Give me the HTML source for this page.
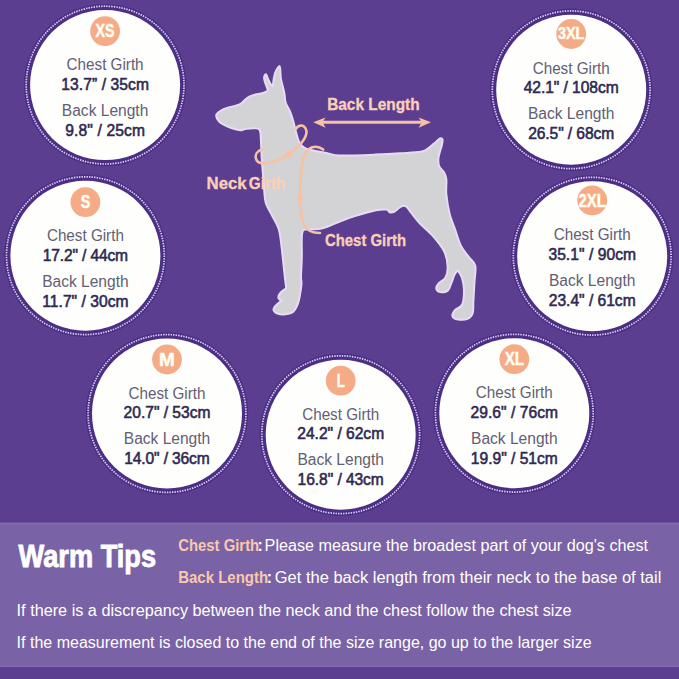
<!DOCTYPE html>
<html><head><meta charset="utf-8"><style>
html,body{margin:0;padding:0;background:#5b3e8f;}
svg{display:block;}
</style></head><body>
<svg width="679" height="679" viewBox="0 0 679 679">
<rect width="679" height="679" fill="#5b3e8f"/>
<circle cx="105.1" cy="85.1" r="81.2" fill="#4a2f82"/>
<circle cx="105.1" cy="85.1" r="78.9" fill="none" stroke="#dccbff" stroke-width="1.7" stroke-dasharray="1.45 1.1"/>
<circle cx="105.1" cy="85.1" r="75" fill="#fefefc"/>
<circle cx="105.1" cy="31.1" r="14.9" fill="#f5ab86"/>
<text x="105.1" y="37.3" font-family="Liberation Sans, sans-serif" font-size="18.2" font-weight="700" fill="#fffdf2" stroke="#fffdf2" stroke-width="0.5" text-anchor="middle" textLength="19" lengthAdjust="spacingAndGlyphs">XS</text>
<text x="105.1" y="70.1" font-family="Liberation Sans, sans-serif" font-size="15.6" fill="#625e75" text-anchor="middle" textLength="77" lengthAdjust="spacingAndGlyphs">Chest Girth</text>
<text transform="translate(105.1,89.6) scale(1.0,1)" font-family="Liberation Sans, sans-serif" font-size="15.6" fill="#2e2852" stroke="#2e2852" stroke-width="0.55" text-anchor="middle" textLength="87.6" lengthAdjust="spacing">13.7” / 35cm</text>
<text x="105.1" y="115.8" font-family="Liberation Sans, sans-serif" font-size="15.6" fill="#625e75" text-anchor="middle" textLength="86.5" lengthAdjust="spacingAndGlyphs">Back Length</text>
<text transform="translate(105.1,135.8) scale(1.0,1)" font-family="Liberation Sans, sans-serif" font-size="15.6" fill="#2e2852" stroke="#2e2852" stroke-width="0.55" text-anchor="middle" textLength="79.6" lengthAdjust="spacing">9.8&quot; / 25cm</text>
<circle cx="85.4" cy="255.7" r="81.2" fill="#4a2f82"/>
<circle cx="85.4" cy="255.7" r="78.9" fill="none" stroke="#dccbff" stroke-width="1.7" stroke-dasharray="1.45 1.1"/>
<circle cx="85.4" cy="255.7" r="75" fill="#fefefc"/>
<circle cx="85.4" cy="202.1" r="14.9" fill="#f5ab86"/>
<text x="85.4" y="208.3" font-family="Liberation Sans, sans-serif" font-size="18.2" font-weight="700" fill="#fffdf2" stroke="#fffdf2" stroke-width="0.5" text-anchor="middle" textLength="9.5" lengthAdjust="spacingAndGlyphs">S</text>
<text x="85.4" y="241.0" font-family="Liberation Sans, sans-serif" font-size="15.6" fill="#625e75" text-anchor="middle" textLength="77" lengthAdjust="spacingAndGlyphs">Chest Girth</text>
<text transform="translate(85.4,260.5) scale(1.0,1)" font-family="Liberation Sans, sans-serif" font-size="15.6" fill="#2e2852" stroke="#2e2852" stroke-width="0.55" text-anchor="middle" textLength="85.4" lengthAdjust="spacing">17.2&quot; / 44cm</text>
<text x="85.4" y="286.7" font-family="Liberation Sans, sans-serif" font-size="15.6" fill="#625e75" text-anchor="middle" textLength="86.5" lengthAdjust="spacingAndGlyphs">Back Length</text>
<text transform="translate(85.4,306.7) scale(1.0,1)" font-family="Liberation Sans, sans-serif" font-size="15.6" fill="#2e2852" stroke="#2e2852" stroke-width="0.55" text-anchor="middle" textLength="86.2" lengthAdjust="spacing">11.7&quot; / 30cm</text>
<circle cx="167.0" cy="413.5" r="81.2" fill="#4a2f82"/>
<circle cx="167.0" cy="413.5" r="78.9" fill="none" stroke="#dccbff" stroke-width="1.7" stroke-dasharray="1.45 1.1"/>
<circle cx="167.0" cy="413.5" r="75" fill="#fefefc"/>
<circle cx="167.0" cy="359.5" r="14.9" fill="#f5ab86"/>
<text x="167.0" y="365.8" font-family="Liberation Sans, sans-serif" font-size="18.2" font-weight="700" fill="#fffdf2" stroke="#fffdf2" stroke-width="0.5" text-anchor="middle" textLength="15.8" lengthAdjust="spacingAndGlyphs">M</text>
<text x="167.0" y="398.5" font-family="Liberation Sans, sans-serif" font-size="15.6" fill="#625e75" text-anchor="middle" textLength="77" lengthAdjust="spacingAndGlyphs">Chest Girth</text>
<text transform="translate(167.0,418.0) scale(1.0,1)" font-family="Liberation Sans, sans-serif" font-size="15.6" fill="#2e2852" stroke="#2e2852" stroke-width="0.55" text-anchor="middle" textLength="86.9" lengthAdjust="spacing">20.7&quot; / 53cm</text>
<text x="167.0" y="444.2" font-family="Liberation Sans, sans-serif" font-size="15.6" fill="#625e75" text-anchor="middle" textLength="86.5" lengthAdjust="spacingAndGlyphs">Back Length</text>
<text transform="translate(167.0,464.2) scale(1.0,1)" font-family="Liberation Sans, sans-serif" font-size="15.6" fill="#2e2852" stroke="#2e2852" stroke-width="0.55" text-anchor="middle" textLength="85.5" lengthAdjust="spacing">14.0&quot; / 36cm</text>
<circle cx="340.7" cy="434.7" r="81.2" fill="#4a2f82"/>
<circle cx="340.7" cy="434.7" r="78.9" fill="none" stroke="#dccbff" stroke-width="1.7" stroke-dasharray="1.45 1.1"/>
<circle cx="340.7" cy="434.7" r="75" fill="#fefefc"/>
<circle cx="340.7" cy="380.7" r="14.9" fill="#f5ab86"/>
<text x="340.7" y="386.8" font-family="Liberation Sans, sans-serif" font-size="18.2" font-weight="700" fill="#fffdf2" stroke="#fffdf2" stroke-width="0.5" text-anchor="middle" textLength="8" lengthAdjust="spacingAndGlyphs">L</text>
<text x="340.7" y="419.7" font-family="Liberation Sans, sans-serif" font-size="15.6" fill="#625e75" text-anchor="middle" textLength="77" lengthAdjust="spacingAndGlyphs">Chest Girth</text>
<text transform="translate(340.7,439.2) scale(1.0,1)" font-family="Liberation Sans, sans-serif" font-size="15.6" fill="#2e2852" stroke="#2e2852" stroke-width="0.55" text-anchor="middle" textLength="86.9" lengthAdjust="spacing">24.2&quot; / 62cm</text>
<text x="340.7" y="465.4" font-family="Liberation Sans, sans-serif" font-size="15.6" fill="#625e75" text-anchor="middle" textLength="86.5" lengthAdjust="spacingAndGlyphs">Back Length</text>
<text transform="translate(340.7,485.4) scale(1.0,1)" font-family="Liberation Sans, sans-serif" font-size="15.6" fill="#2e2852" stroke="#2e2852" stroke-width="0.55" text-anchor="middle" textLength="86.2" lengthAdjust="spacing">16.8&quot; / 43cm</text>
<circle cx="514.3" cy="413.2" r="81.2" fill="#4a2f82"/>
<circle cx="514.3" cy="413.2" r="78.9" fill="none" stroke="#dccbff" stroke-width="1.7" stroke-dasharray="1.45 1.1"/>
<circle cx="514.3" cy="413.2" r="75" fill="#fefefc"/>
<circle cx="514.3" cy="359.2" r="14.9" fill="#f5ab86"/>
<text x="514.3" y="365.2" font-family="Liberation Sans, sans-serif" font-size="18.2" font-weight="700" fill="#fffdf2" stroke="#fffdf2" stroke-width="0.5" text-anchor="middle" textLength="19.3" lengthAdjust="spacingAndGlyphs">XL</text>
<text x="514.3" y="398.2" font-family="Liberation Sans, sans-serif" font-size="15.6" fill="#625e75" text-anchor="middle" textLength="77" lengthAdjust="spacingAndGlyphs">Chest Girth</text>
<text transform="translate(514.3,417.7) scale(1.0,1)" font-family="Liberation Sans, sans-serif" font-size="15.6" fill="#2e2852" stroke="#2e2852" stroke-width="0.55" text-anchor="middle" textLength="87.6" lengthAdjust="spacing">29.6&quot; / 76cm</text>
<text x="514.3" y="443.9" font-family="Liberation Sans, sans-serif" font-size="15.6" fill="#625e75" text-anchor="middle" textLength="86.5" lengthAdjust="spacingAndGlyphs">Back Length</text>
<text transform="translate(514.3,463.9) scale(1.0,1)" font-family="Liberation Sans, sans-serif" font-size="15.6" fill="#2e2852" stroke="#2e2852" stroke-width="0.55" text-anchor="middle" textLength="86.9" lengthAdjust="spacing">19.9&quot; / 51cm</text>
<circle cx="592.2" cy="256.2" r="81.2" fill="#4a2f82"/>
<circle cx="592.2" cy="256.2" r="78.9" fill="none" stroke="#dccbff" stroke-width="1.7" stroke-dasharray="1.45 1.1"/>
<circle cx="592.2" cy="256.2" r="75" fill="#fefefc"/>
<circle cx="592.2" cy="200.4" r="14.9" fill="#f5ab86"/>
<text x="592.2" y="206.6" font-family="Liberation Sans, sans-serif" font-size="18.2" font-weight="700" fill="#fffdf2" stroke="#fffdf2" stroke-width="0.5" text-anchor="middle" textLength="27.5" lengthAdjust="spacingAndGlyphs">2XL</text>
<text x="592.2" y="240.0" font-family="Liberation Sans, sans-serif" font-size="15.6" fill="#625e75" text-anchor="middle" textLength="77" lengthAdjust="spacingAndGlyphs">Chest Girth</text>
<text transform="translate(592.2,259.5) scale(1.0,1)" font-family="Liberation Sans, sans-serif" font-size="15.6" fill="#2e2852" stroke="#2e2852" stroke-width="0.55" text-anchor="middle" textLength="87.6" lengthAdjust="spacing">35.1&quot; / 90cm</text>
<text x="592.2" y="285.7" font-family="Liberation Sans, sans-serif" font-size="15.6" fill="#625e75" text-anchor="middle" textLength="86.5" lengthAdjust="spacingAndGlyphs">Back Length</text>
<text transform="translate(592.2,305.7) scale(1.0,1)" font-family="Liberation Sans, sans-serif" font-size="15.6" fill="#2e2852" stroke="#2e2852" stroke-width="0.55" text-anchor="middle" textLength="86.9" lengthAdjust="spacing">23.4&quot; / 61cm</text>
<circle cx="571.2" cy="89.8" r="81.2" fill="#4a2f82"/>
<circle cx="571.2" cy="89.8" r="78.9" fill="none" stroke="#dccbff" stroke-width="1.7" stroke-dasharray="1.45 1.1"/>
<circle cx="571.2" cy="89.8" r="75" fill="#fefefc"/>
<circle cx="571.2" cy="34.0" r="14.9" fill="#f5ab86"/>
<text x="571.2" y="39.3" font-family="Liberation Sans, sans-serif" font-size="15.8" font-weight="700" fill="#fffdf2" stroke="#fffdf2" stroke-width="0.5" text-anchor="middle" textLength="26.5" lengthAdjust="spacingAndGlyphs">3XL</text>
<text x="571.2" y="73.6" font-family="Liberation Sans, sans-serif" font-size="15.6" fill="#625e75" text-anchor="middle" textLength="77" lengthAdjust="spacingAndGlyphs">Chest Girth</text>
<text transform="translate(571.2,93.1) scale(1.0,1)" font-family="Liberation Sans, sans-serif" font-size="15.6" fill="#2e2852" stroke="#2e2852" stroke-width="0.55" text-anchor="middle" textLength="95.0" lengthAdjust="spacing">42.1&quot; / 108cm</text>
<text x="571.2" y="119.3" font-family="Liberation Sans, sans-serif" font-size="15.6" fill="#625e75" text-anchor="middle" textLength="86.5" lengthAdjust="spacingAndGlyphs">Back Length</text>
<text transform="translate(571.2,139.3) scale(1.0,1)" font-family="Liberation Sans, sans-serif" font-size="15.6" fill="#2e2852" stroke="#2e2852" stroke-width="0.55" text-anchor="middle" textLength="86.1" lengthAdjust="spacing">26.5&quot; / 68cm</text>
<path d="M216.2,115.3 C216.4,113.5 218.7,112.2 220.6,110.9 C222.5,109.7 225.0,108.7 227.7,107.8 C230.3,106.9 234.3,106.1 236.5,105.4 C238.7,104.7 239.5,104.6 241.0,103.6 C242.5,102.6 243.8,100.8 245.3,99.6 C246.8,98.4 247.9,97.3 249.8,96.4 C251.7,95.5 254.8,94.7 256.8,94.2 C258.8,93.7 260.4,93.7 262.0,93.3 C263.6,92.9 265.4,92.2 266.3,91.6 C267.2,91.0 267.8,91.2 267.6,89.6 C267.4,88.0 265.5,83.8 264.9,81.8 C264.3,79.8 264.0,78.8 264.1,77.6 C264.2,76.4 264.9,74.8 265.3,74.4 C265.7,74.0 266.2,74.4 266.6,75.2 C267.1,76.0 267.3,77.5 268.0,79.0 C268.7,80.5 269.8,82.8 270.6,84.0 C271.4,85.2 272.9,86.2 272.9,86.2 C272.9,86.2 273.2,82.1 273.6,79.9 C274.0,77.8 274.4,75.2 275.0,73.3 C275.6,71.3 276.6,69.4 277.4,68.2 C278.2,67.0 279.1,65.7 279.6,66.0 C280.1,66.3 280.1,67.9 280.3,70.0 C280.5,72.1 280.5,75.8 280.9,78.6 C281.3,81.3 282.2,83.9 282.8,86.5 C283.4,89.1 284.0,91.3 284.5,94.0 C285.0,96.7 284.7,99.7 285.7,102.7 C286.7,105.7 289.0,109.0 290.3,112.2 C291.6,115.4 292.4,118.3 293.4,121.8 C294.4,125.3 295.4,130.0 296.3,133.3 C297.2,136.7 298.0,139.7 299.1,141.9 C300.2,144.1 301.4,145.4 303.0,146.7 C304.6,148.0 306.1,148.7 308.7,149.5 C311.2,150.3 315.1,150.8 318.3,151.5 C321.5,152.2 324.4,152.7 328.0,153.4 C331.6,154.1 332.2,155.3 340.0,155.5 C347.8,155.7 365.0,155.0 375.0,154.6 C385.0,154.2 392.4,153.8 400.0,153.3 C407.6,152.8 416.0,152.6 420.6,151.8 C425.2,151.0 425.6,150.1 427.8,148.7 C430.0,147.3 432.2,145.1 434.0,143.6 C435.8,142.1 437.4,140.5 438.5,139.6 C439.6,138.7 439.9,138.3 440.6,138.3 C441.3,138.3 442.4,138.5 442.6,139.6 C442.8,140.7 442.3,143.1 441.9,145.0 C441.5,146.9 440.8,148.6 440.2,150.8 C439.6,153.1 438.5,155.9 438.4,158.5 C438.2,161.1 438.4,164.3 439.3,166.5 C440.2,168.7 442.4,169.7 443.6,171.8 C444.8,173.9 445.9,175.3 446.3,179.0 C446.8,182.7 445.8,188.4 446.3,194.2 C446.9,200.0 448.1,207.7 449.6,213.7 C451.1,219.7 453.4,224.6 455.3,230.0 C457.2,235.4 458.7,241.3 461.0,245.9 C463.3,250.5 466.7,254.0 469.1,257.3 C471.5,260.6 474.4,261.6 475.3,265.6 C476.2,269.7 474.8,275.7 474.5,281.6 C474.2,287.5 473.7,295.7 473.4,301.0 C473.1,306.3 473.6,310.5 472.6,313.5 C471.6,316.5 469.9,317.9 467.5,318.9 C465.1,319.9 460.5,319.9 458.0,319.5 C455.5,319.1 453.2,318.1 452.6,316.6 C452.0,315.1 452.9,312.5 454.5,310.5 C456.1,308.5 460.6,307.9 462.2,304.5 C463.8,301.1 464.0,294.4 464.0,290.0 C464.0,285.6 463.0,281.3 462.0,278.0 C461.0,274.7 457.8,270.3 457.8,270.3 C457.8,270.3 455.7,272.4 454.6,274.5 C453.5,276.6 452.4,280.5 451.3,283.2 C450.2,285.9 449.7,289.1 447.8,290.6 C445.9,292.1 441.9,292.4 440.0,292.0 C438.1,291.6 436.5,289.9 436.3,288.5 C436.1,287.1 437.1,285.2 438.6,283.4 C440.1,281.6 444.0,280.4 445.5,277.5 C447.0,274.6 447.9,270.4 447.6,266.0 C447.4,261.6 446.4,256.0 444.0,251.0 C441.6,246.0 437.0,240.6 433.0,236.0 C429.0,231.4 423.7,227.4 420.0,223.5 C416.3,219.6 413.3,215.4 411.0,212.5 C408.7,209.6 407.8,207.2 406.0,206.3 C404.2,205.4 402.4,205.9 400.5,206.8 C398.6,207.7 396.3,210.6 394.5,211.5 C392.7,212.4 390.8,212.5 389.5,212.2 C388.2,211.9 388.8,209.9 386.5,209.6 C384.2,209.3 381.4,209.1 376.0,210.2 C370.6,211.3 360.3,214.4 354.0,216.4 C347.7,218.4 343.4,220.2 338.0,222.2 C332.6,224.2 326.5,227.4 321.5,228.6 C316.5,229.8 311.2,228.7 308.0,229.4 C304.8,230.1 303.2,228.3 302.2,233.0 C301.2,237.7 302.0,250.2 301.8,257.5 C301.6,264.8 301.1,272.4 301.0,276.6 C300.9,280.9 301.6,280.6 301.5,283.0 C301.4,285.4 301.2,287.6 300.6,291.0 C300.0,294.4 299.3,299.9 298.0,303.4 C296.7,306.9 295.2,310.2 293.0,312.0 C290.8,313.8 287.5,314.0 285.0,314.3 C282.5,314.6 279.8,314.4 278.0,313.8 C276.2,313.2 274.6,312.1 274.0,311.0 C273.4,309.9 273.2,308.7 274.5,307.0 C275.8,305.3 281.5,300.6 281.5,300.6 C281.5,300.6 278.4,299.0 278.3,297.6 C278.2,296.2 279.4,294.1 280.7,292.5 C282.0,290.9 286.2,288.3 286.2,288.3 C286.2,288.3 285.1,279.5 284.4,272.8 C283.6,266.1 282.6,255.3 281.7,248.0 C280.8,240.7 280.3,234.4 278.7,229.0 C277.1,223.6 274.3,220.1 272.2,215.8 C270.1,211.5 267.1,207.3 265.8,203.0 C264.5,198.7 264.6,194.5 264.2,190.0 C263.8,185.5 263.5,181.1 263.1,176.0 C262.7,170.9 262.2,165.5 261.8,159.5 C261.4,153.5 261.2,144.9 260.9,140.0 C260.5,135.1 260.8,132.0 259.7,130.0 C258.6,128.0 256.6,128.4 254.2,128.2 C251.8,128.0 247.5,128.7 245.3,129.0 C243.1,129.3 242.4,130.1 240.9,130.2 C239.4,130.3 238.7,130.1 236.5,129.5 C234.3,128.9 230.6,127.9 227.7,126.6 C224.8,125.3 221.2,123.7 219.3,121.8 C217.4,119.9 216.0,117.1 216.2,115.3 Z" fill="#d3d2d4" stroke="#e6dcf6" stroke-width="2" stroke-linejoin="round"/>

<line x1="322" y1="122.3" x2="422" y2="122.3" stroke="#f7c2a3" stroke-width="3"/>
<path d="M313.2,122.2 L325.6,117.6 L322.5,122.2 L325.6,127.8 Z" fill="#f7c2a3"/>
<path d="M431,122.2 L418.6,117.6 L421.7,122.2 L418.6,127.8 Z" fill="#f7c2a3"/>
<path d="M262,149.3 C257.5,151 255,154.5 255.8,158 C256.5,161.5 259.5,163.6 264,163.4 C270,163 276,161 281,159 C288,155.5 295,150 300.4,144.2 C304,140 306.8,136 306.5,131.5 C306,127 303,125.3 300.5,125.6 C298.5,125.9 296.8,127.2 295.8,129" fill="none" stroke="#f7c2a3" stroke-width="2.6" stroke-linecap="round"/>
<path d="M283,157.8 L292.8,156.4 L290,153.2 L288.5,149.2 Z" fill="#f7c2a3"/>
<path d="M323.2,149.6 C320,147 315.5,146 311.5,147.5 C307,149.5 304.5,154 303,160 C301,170 300,182 300,195 C300,208 301,218 304,225 C307,231 313,233 320,233" fill="none" stroke="#f7c2a3" stroke-width="2.6" stroke-linecap="round"/>
<path d="M300,191.5 L296,199.5 L300.2,197.8 L304,199.5 Z" fill="#f7c2a3"/>


<text x="373.4" y="110.2" font-family="Liberation Sans, sans-serif" font-size="15.6" font-weight="700" fill="#fbd0b6" stroke="#fbd0b6" stroke-width="0.3" text-anchor="middle" textLength="92.4" lengthAdjust="spacingAndGlyphs">Back Length</text>
<text x="206.6" y="188.8" font-family="Liberation Sans, sans-serif" font-size="15.6" font-weight="700" fill="#fbd0b6" stroke="#fbd0b6" stroke-width="0.3" textLength="40" lengthAdjust="spacingAndGlyphs">Neck</text>
<text x="248.8" y="188.8" font-family="Liberation Sans, sans-serif" font-size="15.6" font-weight="700" fill="#fbd0b6" stroke="#fbd0b6" stroke-width="0.3" textLength="36.6" lengthAdjust="spacingAndGlyphs">Girth</text>
<text x="365.5" y="245.5" font-family="Liberation Sans, sans-serif" font-size="15.6" font-weight="700" fill="#fbd0b6" stroke="#fbd0b6" stroke-width="0.3" text-anchor="middle" textLength="81" lengthAdjust="spacingAndGlyphs">Chest Girth</text>


<rect x="0" y="522.5" width="679" height="144.5" fill="#7a62a6"/>
<rect x="0" y="666" width="679" height="1" fill="#846cb0"/>
<rect x="0" y="521.5" width="679" height="1" fill="#563a8a"/>
<rect x="0" y="522.5" width="679" height="2" fill="#8068ab"/>
<text x="18.6" y="567" font-family="Liberation Sans, sans-serif" font-size="30.5" font-weight="700" fill="#ffffff" stroke="#ffffff" stroke-width="0.9" textLength="137.5" lengthAdjust="spacingAndGlyphs">Warm Tips</text>
<text x="178.2" y="550.6" font-family="Liberation Sans, sans-serif" font-size="15.8" font-weight="700" fill="#f8c9ad" textLength="81" lengthAdjust="spacingAndGlyphs">Chest Girth</text>
<text x="257.5" y="550.6" font-family="Liberation Sans, sans-serif" font-size="15.8" font-weight="700" fill="#ffffff">:</text>
<text x="264.6" y="550.6" font-family="Liberation Sans, sans-serif" font-size="15.8" fill="#ffffff" textLength="383.5" lengthAdjust="spacingAndGlyphs">Please measure the broadest part of your dog's chest</text>
<text x="178.2" y="583.1" font-family="Liberation Sans, sans-serif" font-size="15.8" font-weight="700" fill="#f8c9ad" textLength="90" lengthAdjust="spacingAndGlyphs">Back Length</text>
<text x="266.8" y="583.1" font-family="Liberation Sans, sans-serif" font-size="15.8" font-weight="700" fill="#ffffff">:</text>
<text x="274.8" y="583.1" font-family="Liberation Sans, sans-serif" font-size="15.8" fill="#ffffff" textLength="386.5" lengthAdjust="spacingAndGlyphs">Get the back length from their neck to the base of tail</text>
<text x="16.6" y="615.6" font-family="Liberation Sans, sans-serif" font-size="16" fill="#ffffff" textLength="555" lengthAdjust="spacingAndGlyphs">If there is a discrepancy between the neck and the chest follow the chest size</text>
<text x="16.6" y="648.3" font-family="Liberation Sans, sans-serif" font-size="16" fill="#ffffff" textLength="575" lengthAdjust="spacingAndGlyphs">If the measurement is closed to the end of the size range, go up to the larger size</text>

</svg>
</body></html>
